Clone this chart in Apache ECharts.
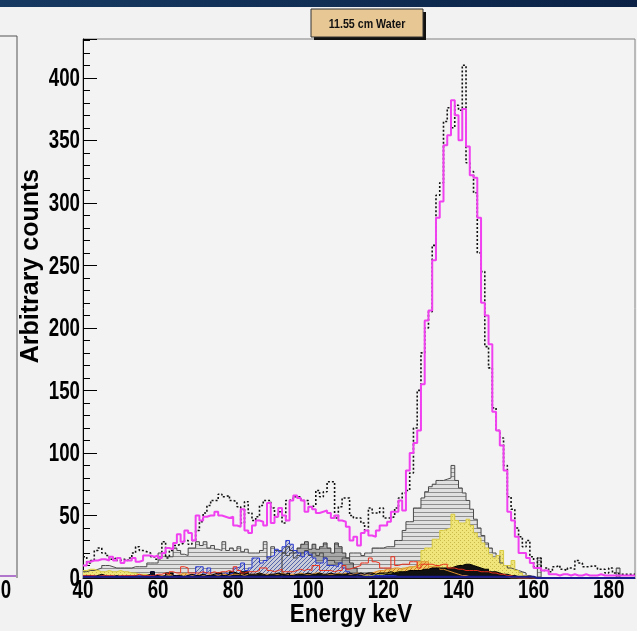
<!DOCTYPE html>
<html>
<head>
<meta charset="utf-8">
<title>11.55 cm Water</title>
<script src="https://cdn.jsdelivr.net/npm/echarts@6.0.0/dist/echarts.min.js"></script>
<style>
  html, body { margin: 0; padding: 0; background: #f2f2f2; }
  #chart { width: 637px; height: 631px; }
</style>
</head>
<body>
<div id="chart"></div>
<script>
// bins of 1 keV, first bin starts at 40 keV
const E_MIN = 40, BIN = 1, E_MAX = 187;
const xTickLabels = [40, 60, 80, 100, 120, 140, 160, 180];
const yTickLabels = [0, 50, 100, 150, 200, 250, 300, 350, 400];

// simulated total (magenta)
const simTotal = [
  10, 13, 14, 14, 15, 15, 14, 17, 14, 16,
  12, 14, 14, 16, 13, 14, 18, 18, 17, 18,
  16, 20, 24, 23, 28, 35, 29, 38, 36, 30,
  50, 46, 49, 50, 50, 53, 50, 49, 48, 49,
  42, 41, 55, 38, 36, 42, 46, 45, 42, 60,
  44, 49, 56, 50, 46, 62, 66, 64, 62, 53,
  57, 55, 52, 53, 54, 52, 48, 50, 46, 45,
  41, 30, 33, 26, 36, 38, 34, 33, 38, 42,
  42, 45, 53, 53, 62, 54, 86, 100, 108, 118,
  155, 206, 214, 254, 288, 301, 346, 354, 382, 370,
  350, 375, 345, 322, 320, 288, 220, 210, 187, 133,
  118, 106, 86, 53, 46, 33, 20, 20, 16, 12,
  8, 8, 6, 6, 3, 3, 2, 3, 3, 2,
  3, 2, 2, 3, 2, 2, 2, 3, 2, 2,
  2, 2, 2, 2, 2, 2, 2
];
// measured (black dotted)
const measured = [
  17, 12, 14, 22, 24, 20, 18, 15, 16, 14,
  15, 14, 16, 20, 25, 22, 21, 20, 17, 15,
  16, 29, 16, 22, 26, 27, 28, 30, 27, 30,
  38, 45, 52, 58, 62, 62, 67, 65, 66, 62,
  61, 57, 44, 61, 52, 46, 49, 58, 62, 62,
  56, 49, 53, 44, 62, 63, 65, 65, 62, 62,
  57, 58, 70, 65, 69, 77, 77, 48, 57, 64,
  64, 50, 48, 48, 44, 38, 56, 52, 52, 56,
  48, 48, 49, 56, 64, 68, 70, 84, 120, 150,
  180, 200, 213, 266, 306, 316, 365, 376, 360, 378,
  374, 410, 332, 325, 308, 260, 245, 185, 168, 136,
  118, 112, 90, 65, 55, 40, 33, 25, 30, 17,
  9, 16, 6, 8, 5, 9, 10, 7, 6, 8,
  7, 14, 12, 9, 9, 10, 9, 7, 7, 4,
  8, 4, 3, 3, 3, 3, 3
];
// light grey, horizontal hatch
const greyHatch = [
  5, 6, 6, 7, 8, 10, 10, 9, 8, 8,
  8, 8, 8, 9, 9, 9, 9, 12, 12, 12,
  20, 20, 17, 17, 24, 22, 19, 18, 24, 24,
  29, 26, 29, 24, 26, 23, 22, 29, 22, 24,
  22, 25, 21, 23, 20, 20, 20, 22, 29, 16,
  25, 22, 22, 20, 18, 20, 16, 18, 20, 22,
  18, 20, 18, 20, 16, 14, 14, 12, 12, 16,
  16, 20, 20, 20, 18, 20, 20, 24, 24, 24,
  25, 25, 25, 30, 30, 38, 45, 45, 56, 56,
  64, 69, 73, 75, 78, 78, 79, 80, 90, 78,
  72, 68, 62, 55, 47, 40, 34, 28, 24, 20,
  18, 12, 10, 8, 7, 6, 5, 4, 2, 1,
  0, 16, 0, 0, 0, 0, 0, 0, 0, 0,
  0, 0, 0, 0, 0, 0, 0, 0, 0, 0,
  0, 0, 8, 0, 0, 0, 0
];
// dark grey
const greyDark = [
  0, 0, 0, 0, 0, 0, 0, 0, 0, 0,
  0, 0, 0, 0, 0, 0, 0, 0, 0, 0,
  0, 0, 0, 0, 0, 0, 0, 0, 0, 0,
  0, 0, 0, 0, 0, 0, 0, 0, 0, 0,
  0, 0, 0, 0, 0, 0, 0, 0, 0, 0,
  0, 0, 0, 20, 25, 22, 20, 24, 27, 29,
  23, 27, 23, 25, 28, 24, 20, 28, 25, 20,
  16, 12, 8, 0, 0, 0, 0, 0, 0, 0,
  0, 0, 0, 0, 0, 0, 0, 0, 0, 0,
  0, 0, 0, 0, 0, 0, 0, 0, 0, 0,
  0, 0, 0, 0, 0, 0, 0, 0, 0, 0,
  0, 0, 0, 0, 0, 0, 0, 0, 0, 0,
  0, 0, 0, 0, 0, 0, 0, 0, 0, 0,
  0, 0, 0, 0, 0, 0, 0, 0, 0, 0,
  0, 0, 0, 0, 0, 0, 0
];
// blue, diagonal hatch
const blueHatch = [
  1, 1, 2, 1, 1, 1, 1, 1, 1, 1,
  1, 1, 1, 1, 2, 1, 1, 2, 5, 2,
  1, 2, 1, 1, 2, 1, 1, 2, 2, 3,
  9, 9, 4, 8, 3, 3, 3, 4, 3, 4,
  8, 9, 12, 6, 8, 16, 16, 12, 14, 17,
  18, 23, 21, 25, 30, 27, 22, 20, 17, 21,
  19, 16, 12, 12, 16, 10, 10, 9, 12, 8,
  5, 3, 3, 3, 3, 3, 2, 2, 2, 2,
  2, 2, 2, 1, 1, 1, 1, 1, 1, 1,
  1, 1, 1, 1, 1, 1, 1, 1, 1, 1,
  1, 1, 1, 1, 1, 1, 1, 1, 1, 1,
  1, 1, 1, 1, 1, 0, 0, 0, 0, 0,
  0, 0, 0, 0, 0, 0, 0, 0, 0, 0,
  0, 0, 0, 0, 0, 0, 0, 0, 0, 0,
  0, 0, 0, 0, 0, 0, 0
];
// yellow, dotted fill
const yellowFill = [
  6, 7, 7, 6, 5, 5, 6, 5, 5, 6,
  5, 5, 4, 4, 3, 3, 3, 2, 2, 2,
  2, 1, 2, 1, 1, 2, 1, 1, 1, 1,
  1, 1, 1, 1, 1, 1, 1, 1, 1, 1,
  1, 1, 1, 1, 1, 1, 1, 1, 1, 1,
  1, 1, 1, 1, 1, 1, 1, 1, 1, 1,
  1, 1, 1, 1, 1, 1, 1, 1, 1, 1,
  1, 1, 1, 1, 2, 2, 2, 3, 3, 3,
  4, 4, 5, 5, 6, 8, 8, 9, 9, 10,
  22, 24, 24, 31, 31, 38, 39, 40, 51, 46,
  44, 44, 47, 42, 36, 32, 28, 24, 19, 16,
  18, 22, 10, 10, 14, 6, 4, 2, 1, 0,
  0, 0, 0, 0, 0, 0, 0, 0, 0, 0,
  0, 0, 0, 0, 0, 0, 0, 0, 0, 0,
  0, 0, 0, 0, 0, 0, 0
];
// orange hatch
const orangeHatch = [
  1, 1, 1, 2, 1, 1, 1, 1, 2, 1,
  1, 1, 2, 1, 1, 1, 2, 1, 1, 2,
  2, 2, 3, 2, 2, 3, 4, 3, 2, 2,
  3, 2, 2, 3, 3, 2, 3, 3, 2, 3,
  3, 3, 2, 3, 3, 3, 4, 3, 3, 3,
  3, 3, 4, 3, 3, 3, 3, 4, 3, 3,
  3, 4, 4, 3, 3, 3, 3, 4, 3, 4,
  3, 3, 4, 3, 3, 3, 4, 5, 6, 6,
  7, 7, 8, 8, 7, 8, 9, 9, 10, 13,
  13, 13, 9, 9, 9, 7, 6, 5, 4, 3,
  2, 2, 1, 1, 1, 1, 1, 1, 1, 1,
  1, 1, 1, 0, 0, 0, 0, 0, 0, 0,
  0, 0, 0, 0, 0, 0, 0, 0, 0, 0,
  0, 0, 0, 0, 0, 0, 0, 0, 0, 0,
  0, 0, 0, 0, 0, 0, 0
];
// black fill
const blackFill = [
  2, 2, 1, 2, 3, 2, 1, 1, 2, 1,
  1, 2, 1, 2, 1, 2, 2, 3, 5, 2,
  1, 2, 4, 4, 2, 2, 1, 2, 3, 2,
  2, 3, 2, 2, 3, 4, 4, 2, 3, 5,
  4, 3, 5, 5, 3, 3, 4, 3, 2, 3,
  3, 4, 3, 3, 4, 2, 3, 3, 3, 4,
  3, 3, 4, 3, 3, 4, 3, 3, 3, 3,
  4, 3, 3, 4, 3, 4, 4, 3, 4, 4,
  4, 5, 4, 5, 5, 5, 6, 6, 6, 6,
  7, 7, 8, 8, 8, 8, 8, 8, 9, 10,
  10, 11, 11, 10, 9, 8, 7, 7, 5, 5,
  4, 3, 3, 2, 2, 1, 1, 1, 0, 0,
  0, 0, 0, 0, 0, 0, 0, 0, 0, 0,
  0, 0, 0, 0, 0, 0, 0, 0, 0, 0,
  0, 0, 0, 0, 0, 0, 0
];
// red outline
const redLine = [
  2, 2, 2, 1, 2, 2, 2, 2, 1, 2,
  2, 2, 2, 2, 3, 2, 2, 2, 2, 3,
  3, 4, 3, 5, 4, 4, 9, 8, 4, 4,
  4, 5, 4, 4, 5, 4, 5, 5, 6, 5,
  9, 6, 4, 5, 5, 5, 6, 8, 8, 6,
  5, 6, 7, 5, 5, 5, 6, 7, 6, 7,
  6, 10, 10, 6, 6, 6, 5, 6, 6, 10,
  7, 8, 9, 10, 12, 12, 16, 13, 12, 8,
  8, 8, 17, 10, 11, 11, 11, 13, 13, 8,
  11, 11, 11, 10, 10, 11, 11, 8, 8, 7,
  7, 6, 6, 6, 6, 5, 5, 5, 4, 4,
  3, 3, 2, 2, 1, 0, 0, 0, 0, 0,
  0, 0, 0, 0, 0, 0, 0, 0, 0, 0,
  0, 0, 0, 0, 0, 0, 0, 0, 0, 0,
  0, 0, 0, 0, 0, 0, 0
];
// navy baseline component
const navyLine = [
  1, 1, 1, 1, 1, 1, 1, 1, 1, 1,
  1, 1, 1, 1, 1, 1, 1, 1, 1, 1,
  1, 1, 1, 1, 1, 1, 1, 1, 1, 1,
  1, 1, 1, 1, 1, 1, 1, 1, 1, 1,
  1, 1, 1, 1, 1, 1, 1, 1, 1, 1,
  1, 1, 1, 1, 1, 1, 1, 1, 1, 1,
  1, 1, 1, 1, 1, 1, 1, 1, 1, 1,
  1, 1, 1, 1, 1, 1, 1, 1, 1, 1,
  1, 1, 1, 1, 1, 1, 1, 1, 1, 1,
  1, 1, 1, 1, 1, 1, 1, 1, 1, 1,
  1, 1, 1, 1, 1, 1, 1, 1, 1, 1,
  1, 1, 1, 1, 1, 1, 1, 1, 1, 1,
  0, 0, 0, 0, 0, 0, 0, 0, 0, 0,
  0, 0, 0, 0, 0, 0, 0, 0, 0, 0,
  0, 0, 0, 0, 0, 0, 0
];

const FONT = "'Liberation Sans', Arial, sans-serif";
const LABEL_FONT = 'bold 26px ' + FONT;
const LABEL_SCALE = 0.72;   // ROOT's condensed digits

// histogram -> step points at bin low edges, closed at the last edge
function edges(vals) {
  const d = vals.map((v, i) => [E_MIN + i * BIN, v]);
  d.push([E_MIN + vals.length * BIN, vals[vals.length - 1]]);
  return d;
}

function pattern(w, h, bg, draw) {
  const c = document.createElement('canvas');
  c.width = w; c.height = h;
  const ctx = c.getContext('2d');
  ctx.fillStyle = bg;
  ctx.fillRect(0, 0, w, h);
  draw(ctx);
  return { image: c, repeat: 'repeat' };
}

const hatchH = (bg, fg) => pattern(4, 4, bg, ctx => { ctx.fillStyle = fg; ctx.fillRect(0, 0, 4, 1); });
const hatchD = (bg, fg) => pattern(4, 4, bg, ctx => {
  ctx.fillStyle = fg;
  for (let i = 0; i < 4; i++) ctx.fillRect(i, 3 - i, 1, 1);
});
const dots = (bg, fg) => pattern(4, 4, bg, ctx => {
  ctx.fillStyle = fg;
  ctx.fillRect(0, 0, 1, 1); ctx.fillRect(2, 2, 1, 1);
});

function hist(name, vals, line, area, z) {
  return {
    name, type: 'line', step: 'end', symbol: 'none', silent: true,
    data: edges(vals), lineStyle: line, areaStyle: area, z
  };
}

const chart = echarts.init(document.getElementById('chart'));
chart.setOption({
  animation: false,
  backgroundColor: '#f2f2f2',
  grid: {
    left: 83, right: 2, top: 39, bottom: 53,
    containLabel: false, outerBoundsMode: 'none',
    show: true, backgroundColor: '#f3f3f3', borderColor: '#808080', borderWidth: 1
  },
  xAxis: {
    type: 'value', min: E_MIN, max: E_MAX, interval: 20,
    axisLine: { lineStyle: { color: '#000', width: 1 } },
    axisTick: { show: false },
    splitLine: { show: false },
    axisLabel: { show: false }
  },
  yAxis: [{
    type: 'value', min: 0, max: 431, interval: 50, position: 'left',
    axisLine: { show: true, lineStyle: { color: '#000', width: 1 } },
    axisTick: { show: true, inside: true, length: 14, lineStyle: { color: '#000' } },
    splitLine: { show: false },
    axisLabel: { show: false }
  }, {
    type: 'value', min: 0, max: 431, interval: 10, position: 'left', offset: 0,
    axisLine: { show: false },
    axisTick: { show: true, inside: true, length: 7, lineStyle: { color: '#000' } },
    axisLabel: { show: false },
    splitLine: { show: false }
  }],
  series: [
    hist('grey', greyHatch, { color: '#4a4a4a', width: 1 }, { color: hatchH('#e0e0e0', '#8e8e8e'), opacity: 1 }, 2),
    hist('grey dark', greyDark, { color: '#3a3a3a', width: 1 }, { color: hatchH('#a8a8a8', '#7a7a7a'), opacity: 1 }, 2),
    hist('blue', blueHatch, { color: '#2a3ad0', width: 1 }, { color: hatchD('#c9cbd8', '#5566aa'), opacity: 1 }, 2),
    hist('yellow', yellowFill, { color: '#d8ca40', width: 1 }, { color: dots('#efe57a', '#c9b84a'), opacity: 1 }, 2),
    hist('orange', orangeHatch, { color: '#e09030', width: 1 }, { color: hatchD('#f0c868', '#d07a20'), opacity: 1 }, 2),
    hist('black', blackFill, { color: '#000', width: 1 }, { color: '#111', opacity: 1 }, 2),
    hist('red', redLine, { color: '#e8301c', width: 1 }, undefined, 3),
    hist('navy', navyLine, { color: '#1a1a8c', width: 2 }, undefined, 3),
    hist('measured', measured, { color: '#111', width: 1.6, type: [2, 2] }, undefined, 4),
    hist('simulated', simTotal, { color: '#f040f0', width: 2 }, undefined, 5)
  ]
});

// tick labels placed through the axis scales, drawn condensed like the ROOT font
const labels = [];
yTickLabels.forEach(v => {
  labels.push({ type: 'text', z: 10, x: 80, y: chart.convertToPixel({ yAxisIndex: 0 }, v) + 1, scaleX: LABEL_SCALE,
    style: { text: String(v), font: LABEL_FONT, fill: '#000', align: 'right', verticalAlign: 'middle' } });
});
xTickLabels.forEach(v => {
  labels.push({ type: 'text', z: 10, x: chart.convertToPixel({ xAxisIndex: 0 }, v), y: 591, scaleX: LABEL_SCALE,
    style: { text: String(v), font: LABEL_FONT, fill: '#000', align: 'center', verticalAlign: 'middle' } });
});

chart.setOption({
  graphic: [
    { type: 'rect', z: 10, shape: { x: 0, y: 0, width: 637, height: 7 },
      style: { fill: new echarts.graphic.LinearGradient(0, 0, 1, 0, [
        { offset: 0, color: '#173a62' }, { offset: 1, color: '#0b2246' }]) } },
    // neighbouring pad, cut at the left border
    { type: 'polyline', z: 10, shape: { points: [[0, 36], [17, 36], [17, 578]] },
      style: { stroke: '#555', lineWidth: 1, fill: null } },
    { type: 'line', z: 10, shape: { x1: 0, y1: 576, x2: 16, y2: 576 },
      style: { stroke: '#9a4cc0', lineWidth: 1.5 } },
    { type: 'text', z: 10, x: 6, y: 591, scaleX: LABEL_SCALE,
      style: { text: '0', font: LABEL_FONT, fill: '#000', align: 'center', verticalAlign: 'middle' } },
    // title box
    { type: 'rect', z: 10, shape: { x: 314, y: 12, width: 112, height: 28 }, style: { fill: '#111' } },
    { type: 'rect', z: 11, shape: { x: 311, y: 9, width: 112, height: 28 },
      style: { fill: '#e7c794', stroke: '#333', lineWidth: 1 } },
    { type: 'text', z: 12, x: 367, y: 24, scaleX: 0.82,
      style: { text: '11.55 cm Water', font: 'bold 13px ' + FONT, fill: '#111', align: 'center', verticalAlign: 'middle' } },
    // axis titles
    { type: 'text', z: 10, x: 31, y: 266, rotation: Math.PI / 2, scaleX: 1.0,
      style: { text: 'Arbitrary counts', font: 'bold 25px ' + FONT, fill: '#000', align: 'center', verticalAlign: 'middle' } },
    { type: 'text', z: 10, x: 351, y: 615, scaleX: 0.9,
      style: { text: 'Energy keV', font: 'bold 25px ' + FONT, fill: '#000', align: 'center', verticalAlign: 'middle' } }
  ].concat(labels)
});
</script>
</body>
</html>
